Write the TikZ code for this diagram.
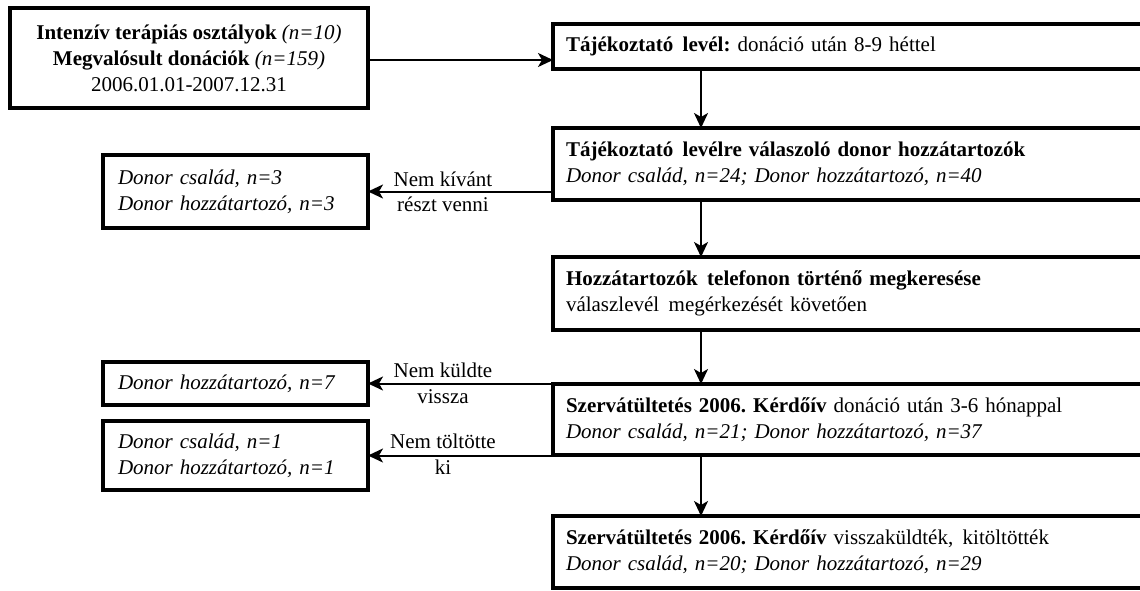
\documentclass[tikz,border=0pt]{standalone}
\usepackage{fontspec}
\setmainfont{Liberation Serif}
\usetikzlibrary{arrows.meta}
\frenchspacing
\newcommand{\wsp}{\hspace{0.45em}}
\begin{document}
\begin{tikzpicture}[x=1pt,y=-1pt,
  txt/.style={font=\fontsize{21}{26}\selectfont},
  box/.style={txt,draw,line width=3.5pt,rectangle,anchor=north west,outer sep=0pt,inner ysep=0pt},
  lbox/.style={box,inner xsep=15pt,align=left},
  rbox/.style={box,inner xsep=13pt,align=left},
  arr/.style={line width=2pt,-{Stealth[length=15pt,width=14pt,inset=4pt]}},
  lab/.style={txt,inner sep=1pt}]
\useasboundingbox (0,0) rectangle (1140,590);
\clip (0,0) rectangle (1140,590);
\fill[white] (0,0) rectangle (1140,590);
% boxes
\node[box,align=center,minimum width=358pt,minimum height=100pt] (A) at (10,8)
  {\textbf{Intenzív terápiás osztályok} \textit{(n=10)}\\
   \textbf{Megvalósult donációk} \textit{(n=159)}\\
   2006.01.01-2007.12.31};
\node[rbox,minimum width=600pt,minimum height=45pt,text width=574pt] (B) at (553,24)
  {\textbf{Tájékoztató\wsp levél:} donáció után 8-9 héttel};
\node[rbox,minimum width=600pt,minimum height=72pt,text width=574pt] (C) at (553,128)
  {\textbf{Tájékoztató\wsp levélre válaszoló donor hozzátartozók}\\
   \textit{Donor család, n=24; Donor hozzátartozó, n=40}};
\node[lbox,minimum width=265pt,minimum height=73pt,text width=235pt] (D) at (103,155)
  {\textit{Donor család, n=3}\\ \textit{Donor hozzátartozó, n=3}};
\node[rbox,minimum width=600pt,minimum height=73pt,text width=574pt] (E) at (553,257)
  {\textbf{Hozzátartozók\wsp telefonon történő megkeresése}\\
   válaszlevél\wsp megérkezését követően};
\node[lbox,minimum width=265pt,minimum height=43pt,text width=235pt] (G) at (103,362)
  {\textit{Donor hozzátartozó, n=7}};
\node[rbox,minimum width=600pt,minimum height=71pt,text width=574pt] (F) at (553,384)
  {\textbf{Szervátültetés 2006. Kérdőív} donáció után 3-6 hónappal\\
   \textit{Donor család, n=21; Donor hozzátartozó, n=37}};
\node[lbox,minimum width=265pt,minimum height=69pt,text width=235pt] (H) at (103,421)
  {\textit{Donor család, n=1}\\ \textit{Donor hozzátartozó, n=1}};
\node[rbox,minimum width=600pt,minimum height=72pt,text width=574pt] (I) at (553,516)
  {\textbf{Szervátültetés 2006. Kérdőív} visszaküldték,\wsp kitöltötték\\
   \textit{Donor család, n=20; Donor hozzátartozó, n=29}};
% column of the vertical arrows
\coordinate (col) at (701,0);
% connectors
\draw[arr] ([yshift=-2pt]A.east) -- ([yshift=-2pt]A.east -| B.west);
\draw[arr] (B.south -| col) -- (C.north -| col);
\draw[arr] (C.south -| col) -- (E.north -| col);
\draw[arr] (E.south -| col) -- (F.north -| col);
\draw[arr] (F.south -| col) -- (I.north -| col);
\draw[arr] (D.east -| C.west) -- (D.east);
\draw[arr] (G.east -| F.west) -- (G.east);
\draw[arr] (H.east -| F.west) -- (H.east);
% labels
\node[lab,anchor=base] (l1a) at (443,186) {Nem kívánt};
\node[lab,anchor=base] (l1b) at (443,211) {részt venni};
\node[lab,anchor=base] (l2a) at (443,377) {Nem küldte};
\node[lab,anchor=base] (l2b) at (443,403) {vissza};
\node[lab,anchor=base] (l3a) at (443,448) {Nem töltötte};
\node[lab,anchor=base] (l3b) at (443,474) {ki};
\end{tikzpicture}
\end{document}
